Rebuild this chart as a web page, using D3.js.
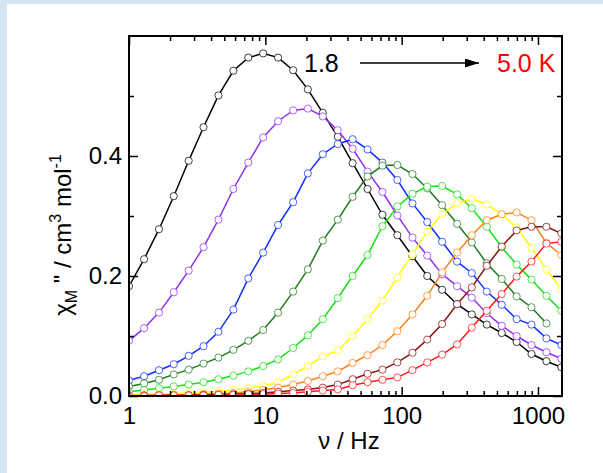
<!DOCTYPE html>
<html>
<head>
<meta charset="utf-8">
<script src="https://cdn.jsdelivr.net/npm/d3@7"></script>
<style>
  body { margin: 0; background: #d5e5f6; }
  svg { display: block; font-family: "Liberation Sans", Arial, sans-serif; }
</style>
</head>
<body>
<svg id="chart" width="603" height="473"></svg>
<script>
// frequencies (Hz)
const freq = [1, 1.29, 1.66, 2.13, 2.74, 3.52, 4.53, 5.83, 7.50, 9.64, 12.4, 16.0, 20.5, 26.4, 34.0,
  43.7, 56.2, 72.3, 93.0, 120, 154, 198, 255, 327, 421, 542, 697, 896, 1153, 1483]

// chi'' per temperature, 1.8 K -> 5.0 K
const black = [0.183, 0.228, 0.278, 0.333, 0.392, 0.448, 0.501, 0.542, 0.564, 0.571, 0.564, 0.543, 0.511, 0.472, 0.432,
  0.388, 0.345, 0.302, 0.268, 0.233, 0.200, 0.177, 0.153, 0.136, 0.119, 0.105, 0.090, 0.070, 0.058, 0.048]
const purple = [0.092, 0.113, 0.139, 0.173, 0.209, 0.248, 0.294, 0.345, 0.389, 0.431, 0.458, 0.476, 0.479, 0.466, 0.443,
  0.412, 0.374, 0.340, 0.301, 0.264, 0.234, 0.203, 0.183, 0.164, 0.138, 0.117, 0.100, 0.085, 0.073, 0.062]
const blue = [0.026, 0.033, 0.043, 0.053, 0.067, 0.083, 0.107, 0.144, 0.196, 0.239, 0.285, 0.323, 0.371, 0.403, 0.420,
  0.428, 0.411, 0.389, 0.360, 0.321, 0.290, 0.257, 0.224, 0.205, 0.174, 0.152, 0.128, 0.119, 0.096, 0.085]
const darkGreen = [0.016, 0.021, 0.027, 0.036, 0.044, 0.054, 0.064, 0.077, 0.092, 0.110, 0.139, 0.174, 0.211, 0.259, 0.294,
  0.332, 0.366, 0.384, 0.385, 0.370, 0.346, 0.318, 0.287, 0.256, 0.221, 0.195, 0.166, 0.148, 0.121]
const green = [0.007, 0.010, 0.013, 0.016, 0.019, 0.023, 0.028, 0.034, 0.041, 0.050, 0.061, 0.080, 0.101, 0.128, 0.163,
  0.200, 0.235, 0.283, 0.316, 0.337, 0.349, 0.350, 0.336, 0.313, 0.282, 0.248, 0.219, 0.194, 0.167, 0.142]
const yellow = [0.002, 0.003, 0.003, 0.004, 0.005, 0.006, 0.008, 0.010, 0.013, 0.017, 0.023, 0.036, 0.050, 0.066, 0.076,
  0.100, 0.128, 0.159, 0.198, 0.236, 0.274, 0.303, 0.321, 0.329, 0.319, 0.303, 0.281, 0.247, 0.211, 0.178]
const orange = [0.001, 0.001, 0.002, 0.002, 0.002, 0.003, 0.004, 0.005, 0.007, 0.010, 0.014, 0.019, 0.025, 0.033, 0.041,
  0.055, 0.068, 0.085, 0.108, 0.136, 0.167, 0.206, 0.239, 0.268, 0.293, 0.303, 0.306, 0.293, 0.255, 0.235]
const brown = [0.000, 0.001, 0.001, 0.001, 0.001, 0.002, 0.002, 0.003, 0.004, 0.005, 0.007, 0.009, 0.011, 0.014, 0.019,
  0.028, 0.037, 0.044, 0.056, 0.072, 0.094, 0.120, 0.153, 0.181, 0.217, 0.249, 0.276, 0.282, 0.282, 0.271]
const red = [0.000, 0.000, 0.001, 0.001, 0.001, 0.001, 0.002, 0.002, 0.003, 0.003, 0.004, 0.005, 0.007, 0.009, 0.011,
  0.018, 0.023, 0.027, 0.031, 0.043, 0.056, 0.069, 0.086, 0.114, 0.142, 0.170, 0.199, 0.224, 0.254, 0.257]

const series = [black, purple, blue, darkGreen, green, yellow, orange, brown, red]
const colors = ['#000000', '#9030f5', '#1030ff', '#1f7a1f', '#16e016', '#ffff00', '#ff8010', '#8b1414', '#ff1a1a']

const xTicks = [1, 10, 100, 1000]
const yTicks = [0, 0.2, 0.4]

const svg = d3.select('#chart')
const pLeft = 129, pRight = 562, pTop = 36, pBottom = 396

svg.append('rect').attr('x', 7).attr('y', 4).attr('width', 603).attr('height', 473).attr('fill', '#fff')

const x = d3.scaleLog().domain([1, 1500]).range([pLeft, pRight])
const y = d3.scaleLinear().domain([0, 0.6]).range([pBottom, pTop])

svg.append('clipPath').attr('id', 'clip')
  .append('rect').attr('x', pLeft).attr('y', pTop).attr('width', pRight - pLeft).attr('height', pBottom - pTop)

const plot = svg.append('g').attr('clip-path', 'url(#clip)')
const line = d3.line().x((d, i) => x(freq[i])).y(d => y(d))

series.forEach((s, k) => {
  const g = plot.append('g')
  g.append('path').datum(s).attr('d', line)
    .attr('fill', 'none').attr('stroke', colors[k]).attr('stroke-width', 1.5)
  g.selectAll('circle').data(s).enter().append('circle')
    .attr('cx', (d, i) => x(freq[i])).attr('cy', d => y(d)).attr('r', 3.6)
    .attr('fill', '#fff').attr('stroke', colors[k]).attr('stroke-width', 1).attr('stroke-opacity', 0.75)
})

// axes with inward ticks, mirrored on all sides
const minorX = x.ticks().filter(t => xTicks.indexOf(t) < 0)
const axB = d3.axisBottom(x).tickValues(xTicks).tickSize(-9).tickFormat(d3.format('d')).tickPadding(11)
const axT = d3.axisTop(x).tickValues(xTicks).tickSize(-9).tickFormat('')
const axL = d3.axisLeft(y).tickValues(yTicks).tickSize(-9).tickFormat(d3.format('.1f')).tickPadding(7)
const axR = d3.axisRight(y).tickValues([0, 0.2, 0.4, 0.6]).tickSize(-9).tickFormat('')

function style(g) {
  g.select('.domain').remove()
  g.selectAll('line').attr('stroke', '#000').attr('stroke-width', 1.5)
  g.selectAll('text').attr('font-size', 24).attr('fill', '#000').attr('font-family', null)
}
svg.append('g').attr('transform', `translate(0,${pBottom})`).call(axB).call(style)
svg.append('g').attr('transform', `translate(0,${pTop})`).call(axT).call(style)
svg.append('g').attr('transform', `translate(${pLeft},0)`).call(axL).call(style)
svg.append('g').attr('transform', `translate(${pRight},0)`).call(axR).call(style)
svg.append('g').attr('transform', `translate(0,${pBottom})`)
  .call(d3.axisBottom(x).tickValues(minorX).tickSize(-5).tickFormat('')).call(style)
svg.append('g').attr('transform', `translate(0,${pTop})`)
  .call(d3.axisTop(x).tickValues(minorX).tickSize(-5).tickFormat('')).call(style)
svg.append('g').attr('transform', `translate(${pLeft},0)`)
  .call(d3.axisLeft(y).tickValues([0.1, 0.3, 0.5]).tickSize(-5).tickFormat('')).call(style)
svg.append('g').attr('transform', `translate(${pRight},0)`)
  .call(d3.axisRight(y).tickValues([0.1, 0.3, 0.5]).tickSize(-5).tickFormat('')).call(style)

svg.append('rect').attr('x', pLeft).attr('y', pTop).attr('width', pRight - pLeft).attr('height', pBottom - pTop)
  .attr('fill', 'none').attr('stroke', '#000').attr('stroke-width', 2)

// axis titles
svg.append('text').attr('x', 349).attr('y', 449).attr('text-anchor', 'middle').attr('font-size', 24)
  .text('ν / Hz')

const yt = svg.append('text').attr('transform', 'translate(71,235) rotate(-90)')
  .attr('text-anchor', 'middle').attr('font-size', 24)
yt.append('tspan').text('χ')
yt.append('tspan').attr('font-size', 16).attr('dy', 6).text('M')
yt.append('tspan').attr('dy', -6).text(' " / cm')
yt.append('tspan').attr('font-size', 16).attr('dy', -10).text('3')
yt.append('tspan').attr('dy', 10).text(' mol')
yt.append('tspan').attr('font-size', 16).attr('dy', -10).text('-1')

// temperature annotation
svg.append('text').attr('x', 304).attr('y', 72).attr('font-size', 25).text('1.8')
svg.append('defs').append('marker').attr('id', 'arrow')
  .attr('viewBox', '0 0 14 9').attr('refX', 14).attr('refY', 4.5)
  .attr('markerWidth', 14).attr('markerHeight', 9).attr('markerUnits', 'userSpaceOnUse').attr('orient', 'auto')
  .append('path').attr('d', 'M0,0L14,4.5L0,9Z').attr('fill', '#000')
svg.append('line').attr('x1', 360).attr('y1', 63).attr('x2', 479).attr('y2', 63)
  .attr('stroke', '#000').attr('stroke-width', 1.3).attr('marker-end', 'url(#arrow)')
svg.append('text').attr('x', 497).attr('y', 72).attr('font-size', 25).attr('fill', '#ff0000').text('5.0 K')
</script>
</body>
</html>
